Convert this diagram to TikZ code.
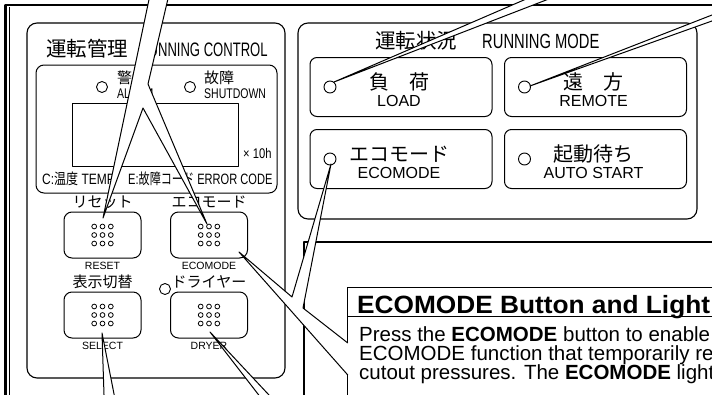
\documentclass[tikz,border=0pt]{standalone}
\usepackage{graphicx}
\usepackage{fontspec}
\setmainfont{Liberation Sans}
\newfontfamily\jpfont{Noto Sans CJK JP}
\usepackage{tikz}
\usetikzlibrary{calc}
\newcommand{\fsz}[1]{\fontsize{#1}{#1}\selectfont}
\newcommand{\narrow}[2][0.72]{\scalebox{#1}[1]{#2}}

\begin{document}
\begin{tikzpicture}[x=1pt, y=-1pt, line join=round,
    panel/.style={draw, line width=1.1pt, rounded corners=10pt},
    subbox/.style={draw, line width=1pt, rounded corners=7pt, minimum width=182pt, minimum height=59pt},
    btn/.style={draw, line width=1pt, rounded corners=8pt, minimum width=77pt, minimum height=46pt},
    lamp/.style={draw, circle, line width=0.9pt, minimum size=12pt, inner sep=0pt},
    lbl/.style={inner sep=0pt, anchor=base},
    lblw/.style={inner sep=0pt, anchor=base west},
    bubble/.style={draw, fill=white, line width=1pt}]
    \useasboundingbox (0,0) rectangle (712,394);
    \clip (0,0) rectangle (712,394);
    \fill[white] (0,0) rectangle (712,394);

    \draw[line width=2.4pt] (5.5,400) -- (5.5,5) -- (720,5);
    \draw[line width=0.8pt] (9,400) -- (9,7);

    % running control
    \draw[panel] (27,23) rectangle (285,378);
    \node[lblw] (ctrlJp) at (46,56) {\jpfont\fsz{20.5}運転管理};
    \node[lblw] (ctrlEn) at (139,56) {\fsz{19.5}\narrow[0.67]{RUNNING CONTROL}};
    \draw[line width=1pt, rounded corners=8pt] (36,65) rectangle (277,193);
    \node[lamp, minimum size=11pt] (alarmLamp) at (102,87) {};
    \node[lblw] (alarmJp) at (117,83.5) {\jpfont\fsz{15}警報};
    \node[lblw] (alarmEn) at (117,98) {\fsz{14}\narrow[0.75]{ALARM}};
    \node[lamp, minimum size=11pt] (shutLamp) at (190,87) {};
    \node[lblw] (shutJp) at (204,83.5) {\jpfont\fsz{15}故障};
    \node[lblw] (shutEn) at (204,98) {\fsz{14}\narrow[0.75]{SHUTDOWN}};
    \draw[line width=1pt] (72,103) rectangle (238,166);
    \node[lblw] (hours) at (243,158) {\fsz{14}\narrow[0.8]{× 10h}};
    \node[lblw] (tempLbl) at (42,184) {\fsz{15}\narrow[0.8]{C:{\jpfont 温度} TEMP}};
    \node[lblw] (errLbl) at (128,184) {\fsz{15}\narrow[0.74]{E:{\jpfont 故障コード} ERROR CODE}};

    \foreach \bx/\by/\bn/\bj/\be in {102.5/235/Reset/リセット/RESET, 209/235/Eco/エコモード/ECOMODE,
                                     102.5/315/Select/表示切替/SELECT, 209/315/Dryer/ドライヤー/DRYER}{
        \node[btn] (btn\bn) at (\bx,\by) {};
        \foreach \i in {-1,0,1}
            \foreach \j in {-1,0,1}
                \draw[line width=0.8pt] (\bx+\i*8.3,\by+\j*8.5) circle (2.4);
        \node[lbl] (jp\bn) at (\bx,\by-27.5) {\jpfont\fsz{15}\bj};
        \node[lbl] (en\bn) at (\bx,\by+34) {\fsz{10.5}\be};
    }
    \node[lamp, minimum size=11pt] (dryerLamp) at (165,289) {};

    % running mode
    \draw[panel] (298,23) rectangle (697,219);
    \node[lblw] (modeJp) at (375,48.5) {\jpfont\fsz{20.5}運転状況};
    \node[lblw] (modeEn) at (482,48.5) {\fsz{20.5}\narrow[0.72]{RUNNING MODE}};
    \foreach \mx/\my/\mn/\mj/\me in {401/87/Load/負　荷/LOAD, 595.5/87/Remote/遠　方/REMOTE,
                                     401/159/Eco/エコモード/ECOMODE, 595.5/159/Auto/起動待ち/AUTO START}{
        \node[subbox] (box\mn) at (\mx,\my) {};
        \node[lamp] (lamp\mn) at (\mx-71,\my) {};
        \node[lbl] (mjp\mn) at (\mx-2,\my+2) {\jpfont\fsz{20}\mj};
        \node[lbl] (men\mn) at (\mx-2,\my+19) {\fsz{16}\me};
    }

    % info box
    \draw[line width=2.2pt] (304,400) -- (304,242) -- (720,242);
    \draw[line width=1pt] (347,400) -- (347,287) -- (720,287);
    \draw[line width=1pt] (347,316) -- (720,316);
    \node[lblw] (infoHead) at (357,313.5) {\fsz{25}\bfseries\narrow[1.05]{ECOMODE Button and Light}};
    \node[lblw] (infoL1) at (359,341.5) {\fsz{20.5}Press the \textbf{ECOMODE} button to enable};
    \node[lblw] (infoL2) at (359,360) {\fsz{20.5}ECOMODE function that temporarily re};
    \node[lblw] (infoL3) at (359,379) {\fsz{20.5}cutout pressures. The \textbf{ECOMODE} light};

    % callouts
    \coordinate (aBaseL) at (151,-10);
    \coordinate (aBaseR) at (170,-10);
    \coordinate (aFork) at (143,108);
    \coordinate (aKnee) at (148,84);
    \coordinate (tipReset) at (103,218);
    \coordinate (tipEcoBtn) at (207,224);
    \draw[bubble] (aBaseL) -- (tipReset) -- (aFork) -- (tipEcoBtn) -- (aKnee) -- (aBaseR) -- cycle;

    \coordinate (bBaseL) at (547,-10);
    \coordinate (bBaseR) at (572,-10);
    \coordinate (tipLoad) at (334,82);
    \draw[bubble] (bBaseL) -- (tipLoad) -- (bBaseR) -- cycle;

    \coordinate (cBaseT) at (722,11.1);
    \coordinate (cBaseB) at (722,17.4);
    \coordinate (tipRemote) at (530,86);
    \draw[bubble] (cBaseT) -- (tipRemote) -- (cBaseB) -- cycle;

    \coordinate (dBoxT) at (347.8,343);
    \coordinate (dBoxB) at (347.8,375);
    \coordinate (dKneeR) at (303,308);
    \coordinate (dKneeL) at (292,297);
    \coordinate (tipEcoLamp) at (331,164);
    \coordinate (tipEcoKey) at (239,252);
    \fill[white] (dBoxT) -- (dKneeR) -- (tipEcoLamp) -- (dKneeL) -- (tipEcoKey) -- (dBoxB) -- cycle;
    \draw[line width=1pt] (dBoxT) -- (dKneeR) -- (tipEcoLamp) -- (dKneeL) -- (tipEcoKey) -- (dBoxB);

    \coordinate (eBaseL) at (104.3,404);
    \coordinate (eBaseR) at (116,404);
    \coordinate (tipSelect) at (102,333);
    \draw[bubble] (eBaseL) -- (tipSelect) -- (eBaseR) -- cycle;

    \coordinate (fBaseL) at (265.7,404);
    \coordinate (fBaseR) at (277.4,404);
    \coordinate (tipDryer) at (210,332);
    \draw[bubble] (fBaseL) -- (tipDryer) -- (fBaseR) -- cycle;
\end{tikzpicture}
\end{document}
